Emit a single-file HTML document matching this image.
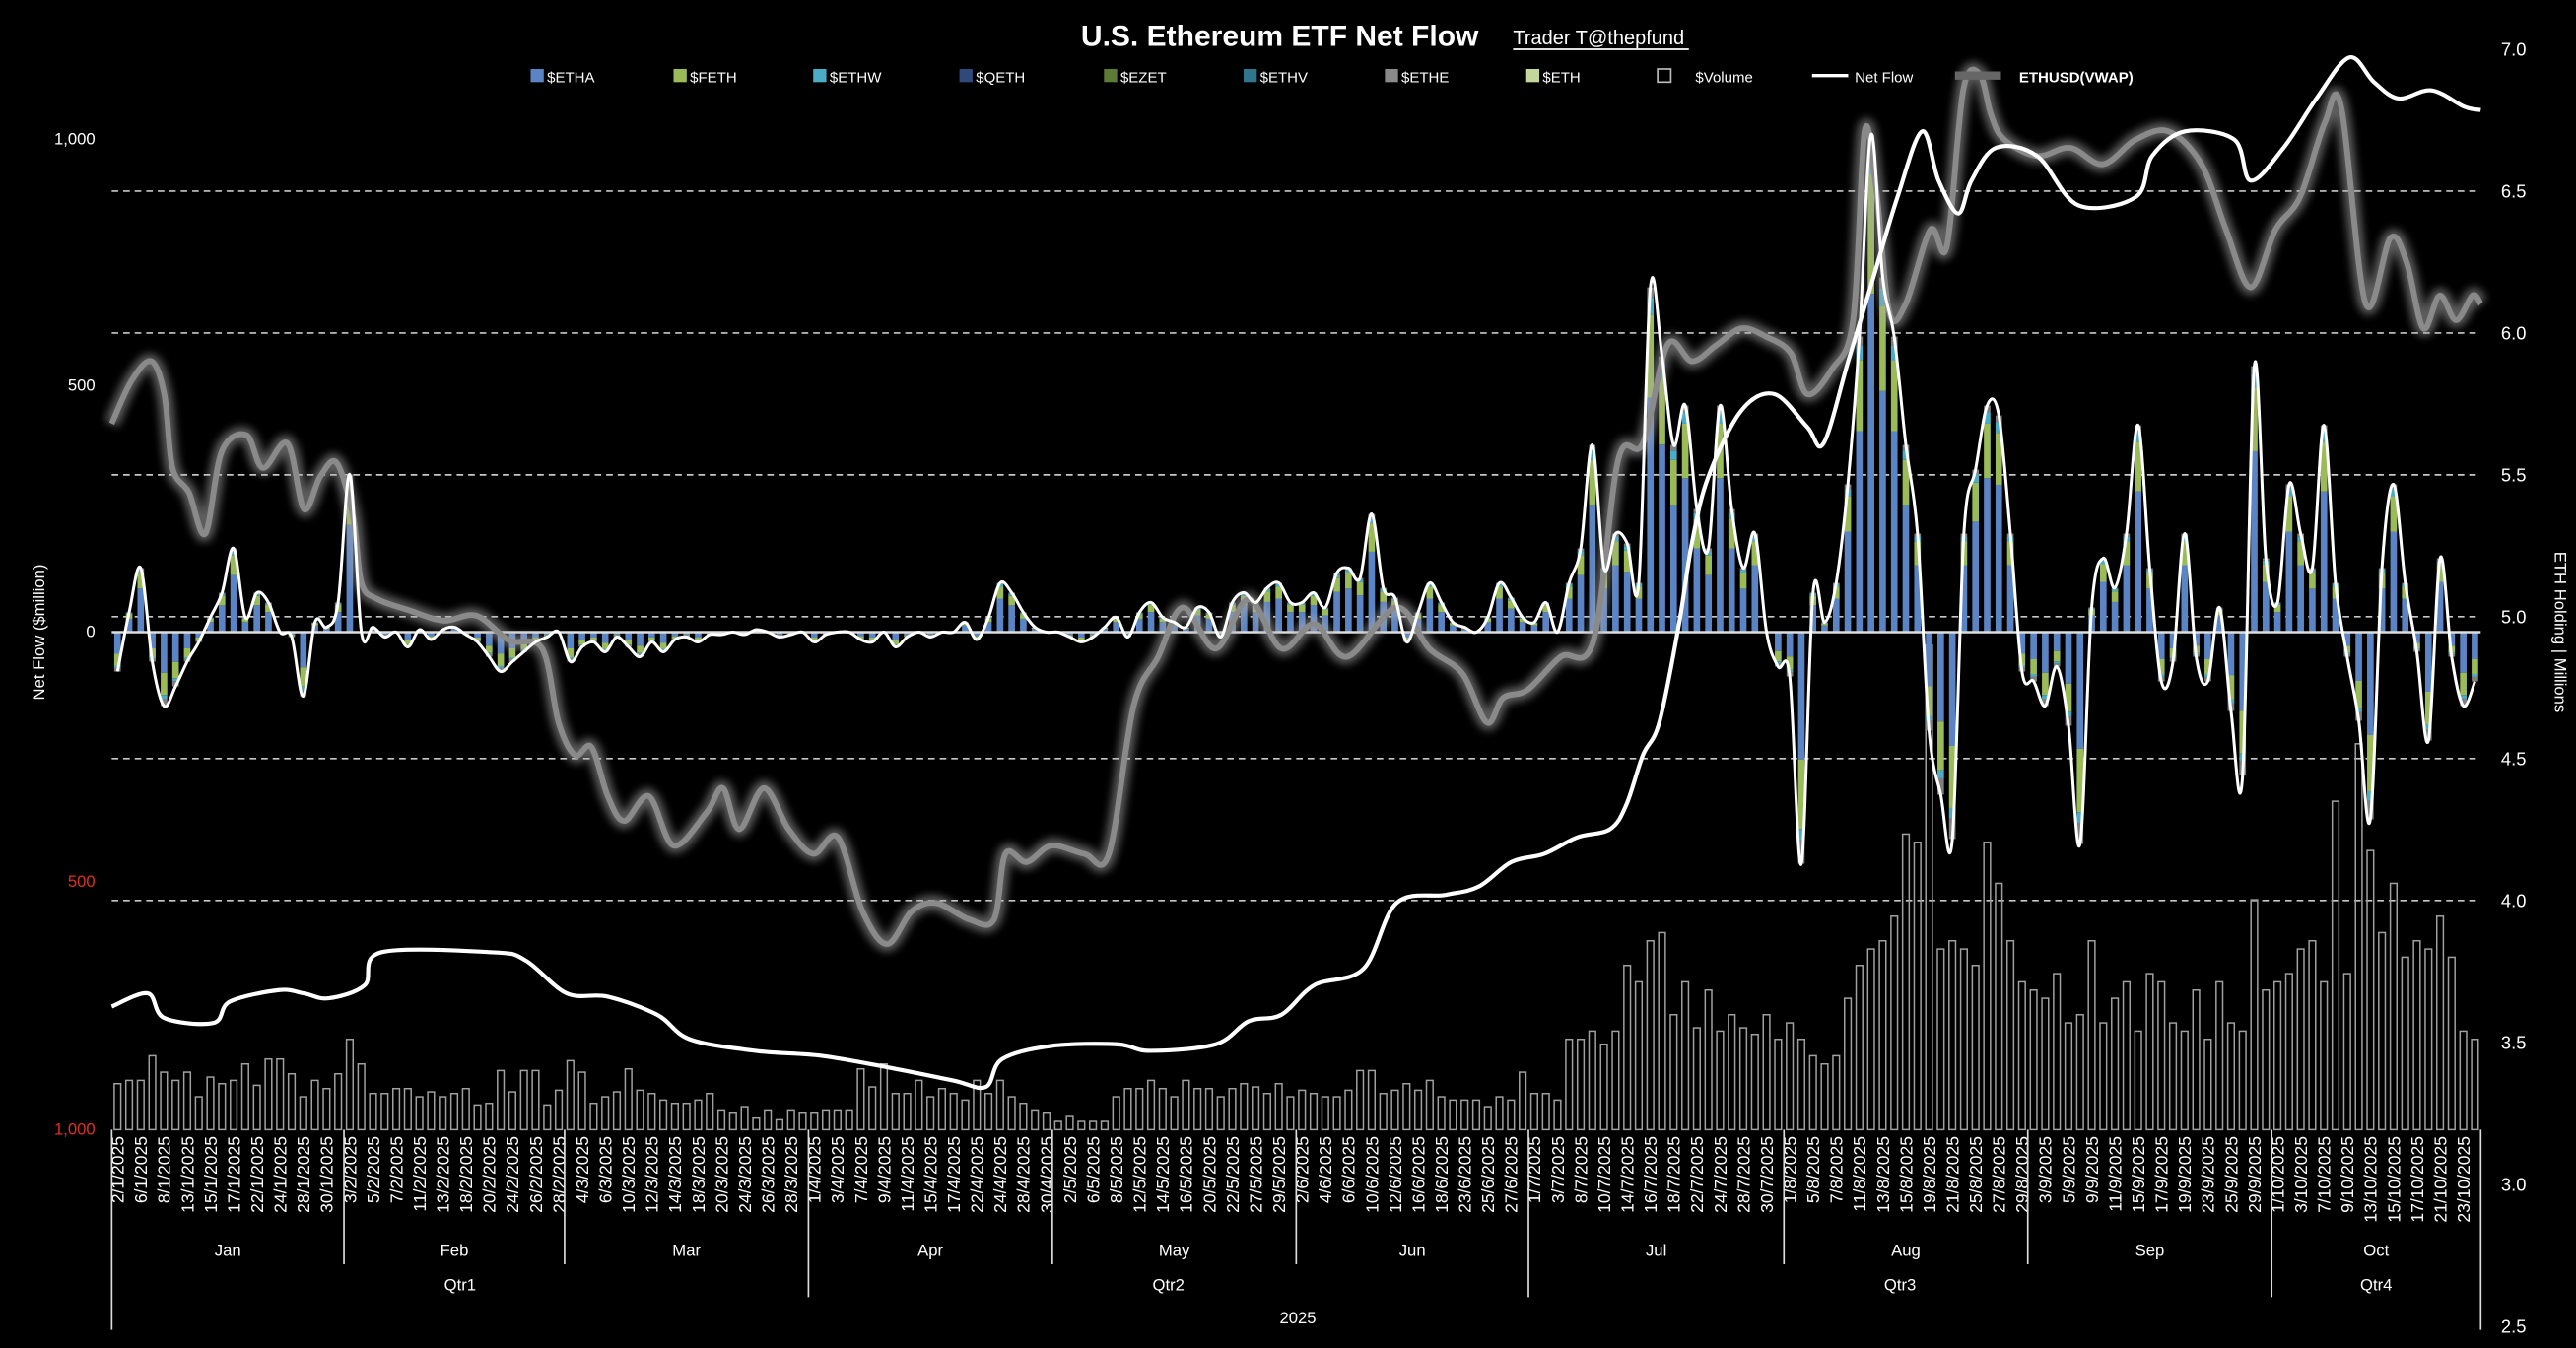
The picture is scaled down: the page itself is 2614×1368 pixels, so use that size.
<!DOCTYPE html>
<html><head><meta charset="utf-8"><style>
html,body{margin:0;padding:0;background:#000;}
svg{display:block;}
text{font-family:"Liberation Sans",sans-serif;fill:#fff;}
</style></head><body>
<svg id="c" width="2614" height="1368" viewBox="0 0 1568 821" preserveAspectRatio="none" xmlns="http://www.w3.org/2000/svg">
<defs>
<filter id="glow" x="-5%" y="-5%" width="110%" height="110%"><feGaussianBlur stdDeviation="2.5"/></filter>
</defs>
<rect width="1568" height="821" fill="#000"/>
<g id="g"></g>
</svg>
<script>
const NS="http://www.w3.org/2000/svg";
const g=document.getElementById('g');
function el(t,a,txt){const e=document.createElementNS(NS,t);for(const k in a)e.setAttribute(k,a[k]);if(txt!==undefined)e.textContent=txt;g.appendChild(e);return e;}
const X0=68,X1=1510,Z=385;
const hol=new Set(['2025-1-9','2025-1-20','2025-2-17','2025-4-18','2025-5-26','2025-6-19','2025-7-4','2025-9-1']);
const days=[];
for(let d=new Date(Date.UTC(2025,0,2));d<=new Date(Date.UTC(2025,9,24));d=new Date(d.getTime()+864e5)){
 const w=d.getUTCDay();if(w==0||w==6)continue;
 const k=d.getUTCFullYear()+'-'+(d.getUTCMonth()+1)+'-'+d.getUTCDate();if(hol.has(k))continue;
 days.push({m:d.getUTCMonth(),d:d.getUTCDate()});
}
const N=days.length,S=(X1-X0)/N;
const xc=i=>X0+S*(i+0.5);
const ry=v=>30+(7-v)*172.8;
[6.5,6.0,5.5,5.0,4.5,4.0].forEach(v=>el('line',{x1:X0,x2:X1,y1:ry(v),y2:ry(v),stroke:'#c8c8c8','stroke-width':1,'stroke-dasharray':'4,3'}));
const flow=[].concat(
[-80,40,130,-60,-150,-110,-60,-20,30,80,170,30,80,60,0,-10,-130,20,10,60],
[320,0,10,-10,0,-30,5,-15,5,10,-5,-20,-50,-80,-60,-40,-20,-10,0],
[-60,-30,-20,-40,-10,-30,-50,-20,-40,-15,-10,-20,-5,-5,0,-5,5,0,-10,-5,0],
[-20,-5,0,0,-15,-20,0,-30,-10,0,-10,0,0,20,-15,30,100,80,40,10,0],
[0,-10,-20,-10,10,30,-10,40,60,30,20,10,50,40,-10,60,80,60,90,100,60],
[60,80,50,120,130,110,240,90,70,-20,40,100,60,20,10,0,30,100,70,30],
[20,60,0,100,170,380,130,200,180,100,700,560,380,460,250,170,460,250,130,200,0,-70],
[-90,-470,80,20,100,300,600,1010,720,600,380,200,-200,-330,-420,200,330,460,440,200,-80],
[-100,-150,-70,-190,-430,50,150,90,200,420,130,-100,-60,200,-50,-100,50,-160,-290,540,150],
[60,300,200,130,420,100,-50,-180,-380,130,300,100,-40,-220,150,-50,-150,-100]);
const vol=[].concat(
[28,30,30,45,35,30,35,20,32,28,30,40,27,43,43,34,20,30,25,34],
[55,40,22,22,25,25,20,23,20,22,25,15,16,36,23,36,36,15,24],
[42,35,16,20,23,37,24,22,18,16,16,18,22,12,10,14,7,12,6,12,10],
[10,12,12,12,37,26,40,22,22,30,20,25,22,18,30,22,30,20,16,12,10],
[5,8,5,5,5,20,25,25,30,25,20,30,25,25,20,25,28,26,22,28,20],
[24,22,20,20,24,36,36,22,24,28,24,30,20,18,18,18,14,20,18,35],
[22,22,18,55,55,60,52,60,100,90,115,120,70,90,62,85,60,70,62,58,70,55],
[65,55,45,40,45,80,100,110,115,130,180,175,295,110,115,110,100,175,150,115,90],
[85,80,95,65,70,115,65,80,90,60,95,90,65,60,85,55,90,65,60,140,85],
[90,95,110,115,90,200,95,235,170,120,150,105,115,110,130,105,60,55]);
for(let i=0;i<N;i++){const h=vol[i]||20;el('rect',{x:xc(i)-2,y:688-h,width:4,height:h,fill:'none',stroke:'#a0a0a0','stroke-width':0.9});}
const cols=['#5b84c4','#9bbb59','#4bacc6','#7f7f7f'];
for(let i=0;i<N;i++){const v=flow[i]||0;const p=v*0.3;
 const parts=v>=0?[0.68,0.24,0.05,0.03]:[0.55,0.3,0.05,0.1];
 let y=Z;
 parts.forEach((f,k)=>{const h=Math.abs(p)*f;if(v>=0){el('rect',{x:xc(i)-2,y:y-h,width:4,height:h,fill:cols[k]});y-=h;}else{el('rect',{x:xc(i)-2,y:y,width:4,height:h,fill:cols[k]});y+=h;}});
}
el('line',{x1:X0,x2:X1,y1:Z,y2:Z,stroke:'#ddd','stroke-width':1.5});
function smooth(pts){let d='M'+pts[0][0]+','+pts[0][1];for(let i=0;i<pts.length-1;i++){const p0=pts[i-1]||pts[i],p1=pts[i],p2=pts[i+1],p3=pts[i+2]||p2;
 d+=' C'+(p1[0]+(p2[0]-p0[0])/6).toFixed(1)+','+(p1[1]+(p2[1]-p0[1])/6).toFixed(1)+' '+(p2[0]-(p3[0]-p1[0])/6).toFixed(1)+','+(p2[1]-(p3[1]-p1[1])/6).toFixed(1)+' '+p2[0].toFixed(1)+','+p2[1].toFixed(1);}return d;}
const price=[[68,258],[80,232],[92,220],[100,240],[105,285],[115,300],[125,325],[135,275],[150,265],[160,285],[175,270],[185,310],[195,290],[205,282],[215,315],[220,355],[230,365],[250,372],[270,378],[290,375],[310,390],[330,395],[340,440],[350,460],[360,455],[370,485],[380,500],[395,485],[410,515],[430,495],[440,480],[450,505],[465,480],[480,505],[495,520],[510,510],[525,555],[540,575],[555,555],[570,550],[590,560],[605,560],[612,520],[625,525],[640,515],[660,520],[675,520],[690,430],[705,400],[720,370],[740,395],[760,365],[780,395],[800,380],[820,400],[850,370],[870,395],[890,410],[905,440],[915,425],[930,420],[950,400],[970,390],[985,280],[1000,270],[1015,210],[1030,220],[1045,210],[1060,200],[1075,205],[1090,215],[1100,240],[1115,225],[1128,195],[1135,80],[1142,115],[1150,190],[1160,185],[1175,140],[1185,150],[1195,55],[1205,45],[1212,70],[1220,85],[1240,95],[1260,90],[1280,100],[1300,85],[1320,80],[1340,100],[1355,140],[1370,175],[1385,140],[1400,120],[1415,75],[1425,65],[1440,185],[1455,145],[1465,160],[1475,200],[1485,180],[1495,195],[1505,180],[1510,185]];
const pd=smooth(price);
el('path',{d:pd,fill:'none',stroke:'#aaa','stroke-width':9,opacity:0.55,filter:'url(#glow)'});
el('path',{d:pd,fill:'none',stroke:'#8a8a8a','stroke-width':3.5});
const hold=[[68,613],[90,605],[100,620],[130,623],[140,610],[170,603],[185,605],[200,608],[222,600],[232,580],[300,580],[320,585],[345,605],[370,607],[400,618],[420,633],[460,640],[500,643],[540,650],[580,658],[600,662],[610,645],[640,637],[680,636],[700,640],[740,636],[760,622],[780,618],[800,600],[830,590],[850,550],[880,545],[900,540],[920,525],[940,520],[960,510],[980,505],[990,490],[1000,460],[1010,440],[1022,380],[1030,330],[1040,290],[1060,250],[1080,240],[1100,260],[1110,270],[1125,220],[1140,170],[1155,120],[1170,80],[1180,110],[1192,130],[1200,110],[1215,90],[1240,95],[1265,125],[1300,120],[1310,95],[1330,80],[1360,85],[1370,110],[1390,90],[1410,60],[1430,35],[1445,50],[1460,60],[1480,55],[1500,65],[1510,67]];
el('path',{d:smooth(hold),fill:'none',stroke:'#fff','stroke-width':2.5});
el('path',{d:smooth(flow.map((v,i)=>[xc(i),Z-v*0.3])),fill:'none',stroke:'#fff','stroke-width':1.8});
[[85,'1,000','#fff'],[235,'500','#fff'],[385,'0','#fff'],[537,'500','#e03020'],[688,'1,000','#e03020']].forEach(a=>el('text',{x:58,y:a[0]+3,'text-anchor':'end','font-size':10,style:'fill:'+a[2]},a[1]));
el('text',{x:0,y:0,transform:'translate(27,385) rotate(-90)','text-anchor':'middle','font-size':10},'Net Flow ($million)');
for(let k=0;k<=9;k++){const v=7-k*0.5;el('text',{x:1530,y:ry(v)+4,'text-anchor':'middle','font-size':11},v.toFixed(1));}
el('text',{x:0,y:0,transform:'translate(1555,385) rotate(90)','text-anchor':'middle','font-size':10},'ETH Holding | Millions');
for(let i=0;i<N;i+=2){const dd=days[i];el('text',{x:0,y:0,transform:'translate('+(xc(i)+3.8)+',692) rotate(-90)','text-anchor':'end','font-size':10.5},dd.d+'/'+(dd.m+1)+'/2025');}
const mn=['Jan','Feb','Mar','Apr','May','Jun','Jul','Aug','Sep','Oct'];
const mstart=[];days.forEach((d,i)=>{if(i==0||days[i-1].m!=d.m)mstart.push(i);});
mstart.push(N);
for(let k=0;k<mstart.length-1;k++){const xa=X0+S*mstart[k],xb=X0+S*mstart[k+1];
 const ybot=(k%3==0)?(k==0?810:790):770;
 el('line',{x1:xa,x2:xa,y1:688,y2:ybot,stroke:'#ddd','stroke-width':1});
 el('text',{x:(xa+xb)/2,y:765,'text-anchor':'middle','font-size':10},mn[k]);}
el('line',{x1:X1,x2:X1,y1:688,y2:810,stroke:'#ddd','stroke-width':1});
[[0,3,'Qtr1'],[3,6,'Qtr2'],[6,9,'Qtr3'],[9,10,'Qtr4']].forEach(q=>{const xa=X0+S*mstart[q[0]],xb=X0+S*mstart[q[1]];el('text',{x:(xa+xb)/2,y:786,'text-anchor':'middle','font-size':10},q[2]);});
el('text',{x:790,y:806,'text-anchor':'middle','font-size':10},'2025');
el('text',{x:779,y:28,'text-anchor':'middle','font-size':18,'font-weight':'bold'},'U.S. Ethereum ETF Net Flow');
el('text',{x:921,y:27,'font-size':12},'Trader T@thepfund');
el('line',{x1:921,x2:1028,y1:30,y2:30,stroke:'#fff','stroke-width':1});
const lg=[[323,'#5b84c4','$ETHA'],[410,'#9bbb59','$FETH'],[495,'#4bacc6','$ETHW'],[584,'#2f4a7a','$QETH'],[672,'#5d7a36','$EZET'],[757,'#31758c','$ETHV'],[843,'#8a8a8a','$ETHE'],[929,'#c3d69b','$ETH']];
lg.forEach(l=>{el('rect',{x:l[0],y:42,width:8,height:8,fill:l[1]});el('text',{x:l[0]+10,y:50,'font-size':9},l[2]);});
el('rect',{x:1009,y:42,width:8,height:8,fill:'none',stroke:'#bbb','stroke-width':1});el('text',{x:1032,y:50,'font-size':9},'$Volume');
el('line',{x1:1103,x2:1125,y1:46,y2:46,stroke:'#fff','stroke-width':2});el('text',{x:1129,y:50,'font-size':9},'Net Flow');
el('line',{x1:1190,x2:1218,y1:46,y2:46,stroke:'#666','stroke-width':5});el('text',{x:1229,y:50,'font-size':9,'font-weight':'bold'},'ETHUSD(VWAP)');
</script>
</body></html>
